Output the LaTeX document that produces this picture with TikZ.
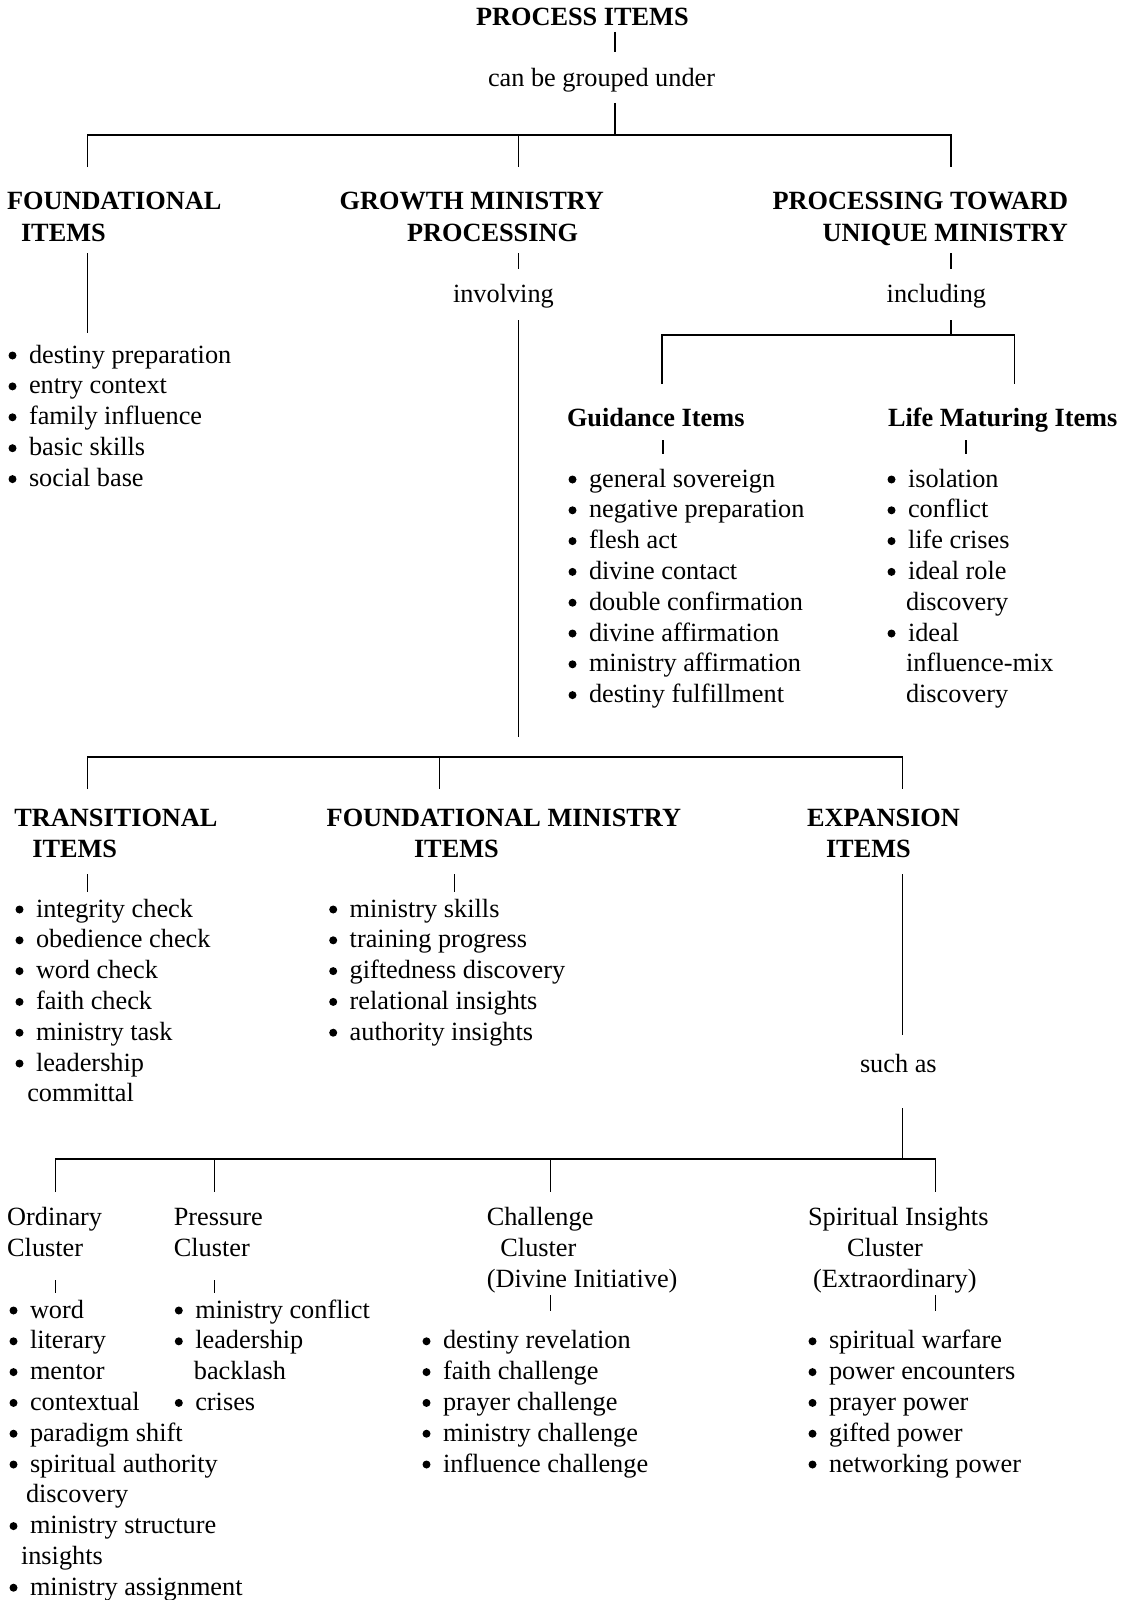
\documentclass[tikz,border=0pt]{standalone}
\usepackage{fontspec}
\setmainfont{Liberation Serif}
\newcommand\diagfont{\fontsize{26.3}{30.8}\selectfont}
% one line of text, placed by its baseline start
\newcommand\txtline[4]{\node[txt] (#1) at (#2,#3) {#4};}
% a bulleted entry: round bullet centred 16.5 units left of the text
\newcommand\bullitem[4]{\node[txt] (#1) at (#2,#3) {#4};\node[bdot] (#1-dot) at (#2-16.5,#3-7.5) {};}
% a vertical connector between two named end points
\newcommand\vseg[4]{\coordinate (#1-top) at (#2,#3);\coordinate (#1-bot) at (#2,#4);\draw[conn] (#1-top) -- (#1-bot);}
\begin{document}
\begin{tikzpicture}[x=1pt,y=-1pt,
  txt/.style={anchor=base west,inner sep=0pt,outer sep=0pt,font=\diagfont},
  hd/.style={txt,font=\diagfont\bfseries},
  bdot/.style={circle,fill=black,inner sep=0pt,outer sep=0pt,minimum size=8pt},
  conn/.style={line width=1.5pt,line cap=butt}]
\useasboundingbox (0,0) rectangle (1126,1600);

% ---------- root ----------
\node[hd] (root) at (476,26) {PROCESS ITEMS};
\vseg{r1}{615}{32}{52}
\txtline{grp}{488}{87}{can be grouped under}
\vseg{r2}{615}{103}{135}
\coordinate (b1-l) at (87.6,135);  \coordinate (b1-lb) at (87.6,167);
\coordinate (b1-r) at (951,135);   \coordinate (b1-rb) at (951,167);
\coordinate (b1-m) at (518.4,135); \coordinate (b1-mb) at (518.4,167);
\draw[conn] (b1-lb) -- (b1-l) -- (b1-r) -- (b1-rb);
\draw[conn] (b1-m) -- (b1-mb);

% ---------- first level ----------
\node[hd] (fnd1) at (7,209.3) {FOUNDATIONAL};
\node[hd] (fnd2) at (21,241) {ITEMS};
\node[hd] (gmp1) at (339.6,209.3) {GROWTH MINISTRY};
\node[hd] (gmp2) at (407,241) {PROCESSING};
\node[hd,anchor=base east] (ptu1) at (1068,209.3) {PROCESSING TOWARD};
\node[hd,anchor=base east] (ptu2) at (1068,241) {UNIQUE MINISTRY};

\vseg{f1}{87.6}{253}{333}
\foreach \t [count=\i from 0] in {destiny preparation,entry context,family influence,basic skills,social base}
  {\bullitem{fi\i}{29}{363+30.9*\i}{\t}}

\vseg{g1}{518.4}{253}{269}
\txtline{inv}{453}{302.7}{involving}
\vseg{g2}{518.4}{320}{737}

\vseg{p1}{951}{253}{269}
\txtline{inc}{886.7}{302.7}{including}
\vseg{p2}{951}{320}{335}
\coordinate (b2-l) at (662,335);    \coordinate (b2-lb) at (662,384);
\coordinate (b2-r) at (1014.5,335); \coordinate (b2-rb) at (1014.5,384);
\draw[conn] (b2-lb) -- (b2-l) -- (b2-r) -- (b2-rb);

% ---------- guidance / life maturing ----------
\node[hd] (gdi) at (567,426) {Guidance Items};
\node[hd] (lmi) at (888,426) {Life Maturing Items};
\vseg{gi}{663}{440}{454}
\vseg{lm}{966}{440}{454}
\foreach \t [count=\i from 0] in {general sovereign,negative preparation,flesh act,divine contact,double confirmation,divine affirmation,ministry affirmation,destiny fulfillment}
  {\bullitem{gd\i}{589}{487+30.8*\i}{\t}}
\bullitem{lm0}{908}{487}{isolation}
\bullitem{lm1}{908}{517.8}{conflict}
\bullitem{lm2}{908}{548.6}{life crises}
\bullitem{lm3}{908}{579.4}{ideal role}
\txtline{lm3c}{906}{610.2}{discovery}
\bullitem{lm4}{908}{641}{ideal}
\txtline{lm4c}{906}{671.8}{influence-mix}
\txtline{lm4d}{906}{702.6}{discovery}

% ---------- second level ----------
\coordinate (b3-l) at (87.6,757);  \coordinate (b3-lb) at (87.6,789);
\coordinate (b3-r) at (902.5,757); \coordinate (b3-rb) at (902.5,789);
\coordinate (b3-m) at (439.4,757); \coordinate (b3-mb) at (439.4,789);
\draw[conn] (b3-lb) -- (b3-l) -- (b3-r) -- (b3-rb);
\draw[conn] (b3-m) -- (b3-mb);

\node[hd] (tr1) at (14.4,826) {TRANSITIONAL};
\node[hd] (tr2) at (32.3,857) {ITEMS};
\node[hd] (fm1) at (326.7,826) {FOUNDATIONAL MINISTRY};
\node[hd] (fm2) at (414,857) {ITEMS};
\node[hd] (ex1) at (807,826) {EXPANSION};
\node[hd] (ex2) at (826,857) {ITEMS};

\vseg{tr}{87.6}{874}{892}
\vseg{fm}{454.5}{874}{892}
\vseg{ex}{902.5}{874}{1035}

\foreach \t [count=\i from 0] in {integrity check,obedience check,word check,faith check,ministry task,leadership}
  {\bullitem{tr\i}{36}{917+30.8*\i}{\t}}
\txtline{tr5c}{27.3}{1101.8}{committal}
\foreach \t [count=\i from 0] in {ministry skills,training progress,giftedness discovery,relational insights,authority insights}
  {\bullitem{fm\i}{349.7}{917+30.8*\i}{\t}}

\txtline{such}{860}{1072}{such as}
\vseg{sa}{902.5}{1108}{1159}

% ---------- clusters ----------
\coordinate (b4-l) at (55.3,1159);  \coordinate (b4-lb) at (55.3,1192);
\coordinate (b4-r) at (935.5,1159); \coordinate (b4-rb) at (935.5,1192);
\coordinate (b4-p) at (214.7,1159); \coordinate (b4-pb) at (214.7,1192);
\coordinate (b4-c) at (550.7,1159); \coordinate (b4-cb) at (550.7,1192);
\draw[conn] (b4-lb) -- (b4-l) -- (b4-r) -- (b4-rb);
\draw[conn] (b4-p) -- (b4-pb);
\draw[conn] (b4-c) -- (b4-cb);

\txtline{oc1}{7.2}{1225.7}{Ordinary}
\txtline{oc2}{7.2}{1256.7}{Cluster}
\txtline{pc1}{173.8}{1225.7}{Pressure}
\txtline{pc2}{173.8}{1256.7}{Cluster}
\txtline{cc1}{486.8}{1225.7}{Challenge}
\txtline{cc2}{500.4}{1256.7}{Cluster}
\txtline{cc3}{486.8}{1287}{(Divine Initiative)}
\txtline{sc1}{808}{1225.7}{Spiritual Insights}
\txtline{sc2}{847}{1256.7}{Cluster}
\txtline{sc3}{813}{1287}{(Extraordinary)}

\vseg{oc}{55.3}{1280}{1293}
\vseg{pc}{214.7}{1280}{1293}
\vseg{cc}{550.7}{1295}{1311}
\vseg{sc}{935.5}{1295}{1311}

\bullitem{oc0}{30}{1318}{word}
\bullitem{oc1i}{30}{1348.8}{literary}
\bullitem{oc2i}{30}{1379.6}{mentor}
\bullitem{oc3i}{30}{1410.4}{contextual}
\bullitem{oc4i}{30}{1441.2}{paradigm shift}
\bullitem{oc5i}{30}{1472}{spiritual authority}
\txtline{oc5c}{26}{1502.8}{discovery}
\bullitem{oc6i}{30}{1533.6}{ministry structure}
\txtline{oc6c}{21}{1564.4}{insights}
\bullitem{oc7i}{30}{1595.2}{ministry assignment}

\bullitem{pc0}{195.3}{1318}{ministry conflict}
\bullitem{pc1i}{195.3}{1348.8}{leadership}
\txtline{pc1c}{193.9}{1379.6}{backlash}
\bullitem{pc2i}{195.3}{1410.4}{crises}

\foreach \t [count=\i from 0] in {destiny revelation,faith challenge,prayer challenge,ministry challenge,influence challenge}
  {\bullitem{ch\i}{443}{1348.8+30.8*\i}{\t}}
\foreach \t [count=\i from 0] in {spiritual warfare,power encounters,prayer power,gifted power,networking power}
  {\bullitem{si\i}{829}{1348.8+30.8*\i}{\t}}
\end{tikzpicture}
\end{document}
